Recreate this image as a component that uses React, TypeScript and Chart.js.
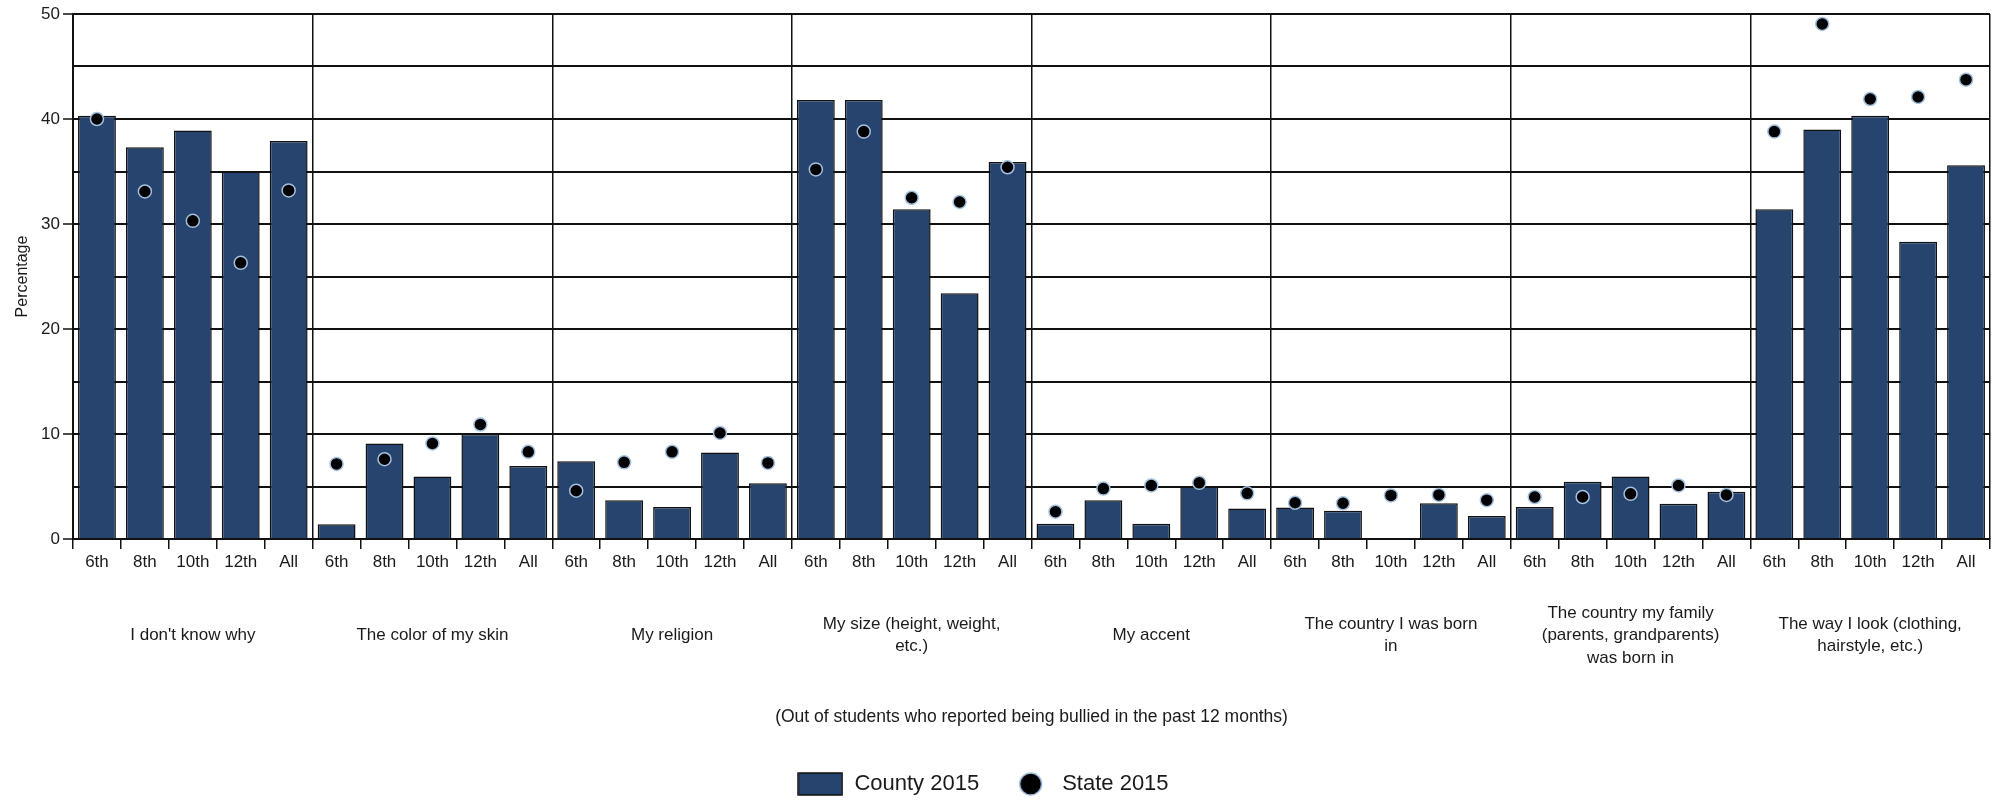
import React, { useEffect, useRef } from 'react';
import { Chart, registerables } from 'chart.js';

Chart.register(...registerables);

// ---------- data ----------
const groupLabels: (string | string[])[] = [
  "I don't know why",
  'The color of my skin',
  'My religion',
  ['My size (height, weight,', 'etc.)'],
  'My accent',
  ['The country I was born', 'in'],
  ['The country my family', '(parents, grandparents)', 'was born in'],
  ['The way I look (clothing,', 'hairstyle, etc.)'],
];

const gradeLabels = ['6th', '8th', '10th', '12th', 'All'];

// County 2015 (bars), 5 grades per group, in group order
const county2015: (number | null)[] = [
  40.3, 37.3, 38.9, 35.0, 37.9,
  1.4, 9.1, 5.95, 10.0, 6.95,
  7.4, 3.7, 3.05, 8.25, 5.3,
  41.8, 41.8, 31.4, 23.4, 35.9,
  1.45, 3.7, 1.45, 5.0, 2.9,
  3.0, 2.7, null, 3.4, 2.2,
  3.05, 5.45, 5.95, 3.35, 4.5,
  31.4, 39.0, 40.3, 28.3, 35.6,
];

// State 2015 (points)
const state2015: number[] = [
  40.0, 33.1, 30.3, 26.3, 33.2,
  7.15, 7.6, 9.1, 10.9, 8.3,
  4.6, 7.3, 8.3, 10.1, 7.25,
  35.2, 38.8, 32.5, 32.1, 35.4,
  2.6, 4.8, 5.1, 5.35, 4.35,
  3.45, 3.4, 4.15, 4.2, 3.7,
  4.0, 4.0, 4.3, 5.1, 4.2,
  38.8, 49.05, 41.9, 42.1, 43.75,
];

const yMin = 0;
const yMax = 50;
const yStep = 5;
const yLabelStep = 10;

const seriesNames = ['County 2015', 'State 2015'];
const xTitle = '(Out of students who reported being bullied in the past 12 months)';
const yTitle = 'Percentage';

// ---------- styles ----------
const FONT = '"Liberation Sans", Arial, sans-serif';
const NAVY = '#26446e';
const LINE = '#111111';
const TEXT = '#1a1a1a';
const PT_BORDER = '#a3c1e0';

const categories = groupLabels.flatMap(() => gradeLabels);

export default function App() {
  const ref = useRef<HTMLCanvasElement>(null);

  useEffect(() => {
    const canvas = ref.current;
    if (!canvas) return;

    const rectImg = document.createElement('canvas');
    rectImg.width = 46;
    rectImg.height = 24;
    const rc = rectImg.getContext('2d')!;
    rc.fillStyle = NAVY;
    rc.fillRect(1, 1, 44, 22);
    rc.strokeStyle = LINE;
    rc.lineWidth = 1.5;
    rc.strokeRect(1, 1, 44, 22);

    const dotImg = document.createElement('canvas');
    dotImg.width = 46;
    dotImg.height = 26;
    const dc = dotImg.getContext('2d')!;
    dc.beginPath();
    dc.arc(25.5, 13, 11, 0, Math.PI * 2);
    dc.fillStyle = '#000';
    dc.fill();
    dc.lineWidth = 1.5;
    dc.strokeStyle = PT_BORDER;
    dc.stroke();

    const chart = new Chart(canvas, {
      type: 'bar',
      data: {
        labels: categories,
        datasets: [
          {
            type: 'bar',
            label: seriesNames[0],
            data: county2015,
            backgroundColor: NAVY,
            borderColor: LINE,
            borderWidth: 1.5,
            barPercentage: 0.79,
            categoryPercentage: 1,
            order: 1,
            xAxisID: 'x',
            yAxisID: 'y',
          } as any,
          {
            type: 'line',
            label: seriesNames[1],
            data: state2015,
            showLine: false,
            pointRadius: 6.5,
            pointHoverRadius: 6.5,
            pointBackgroundColor: '#000',
            pointBorderColor: PT_BORDER,
            pointBorderWidth: 1.5,
            backgroundColor: '#000',
            borderColor: PT_BORDER,
            order: 0,
            xAxisID: 'x',
            yAxisID: 'y',
          } as any,
        ],
      },
      options: {
        animation: false,
        responsive: true,
        maintainAspectRatio: false,
        events: [],
        layout: { padding: { top: 14, left: 0, right: 9, bottom: -4 } },
        plugins: {
          tooltip: { enabled: false },
          legend: {
            position: 'bottom',
            labels: {
              usePointStyle: true,
              pointStyleWidth: 46,
              padding: 26,
              color: TEXT,
              font: { family: FONT, size: 22 },
              sort: (a: any, b: any) => a.datasetIndex - b.datasetIndex,
              generateLabels: (c: any) => {
                const items = (Chart.defaults.plugins.legend.labels as any).generateLabels(c);
                items.forEach((it: any) => {
                  it.pointStyle = it.datasetIndex === 0 ? rectImg : dotImg;
                });
                return items;
              },
            },
          },
        },
        scales: {
          x: {
            type: 'category',
            position: 'bottom',
            weight: 0,
            offset: true,
            grid: {
              display: true,
              drawOnChartArea: false,
              drawTicks: true,
              tickLength: 10,
              color: LINE,
              lineWidth: 1.5,
              offset: true,
            },
            border: { display: true, color: LINE, width: 2 },
            ticks: {
              color: TEXT,
              font: { family: FONT, size: 17 },
              padding: 3,
              autoSkip: false,
              maxRotation: 0,
              minRotation: 0,
            },
            afterFit: (s: any) => {
              s.height = 40;
            },
          },
          x2: {
            type: 'category',
            position: 'bottom',
            weight: 1,
            offset: true,
            labels: groupLabels as any,
            grid: {
              display: true,
              drawOnChartArea: true,
              drawTicks: false,
              color: LINE,
              lineWidth: 1.5,
              offset: true,
            },
            border: { display: false },
            ticks: {
              color: TEXT,
              font: { family: FONT, size: 17, lineHeight: 1.32 },
              padding: 34,
              autoSkip: false,
              maxRotation: 0,
              minRotation: 0,
              crossAlign: 'center',
            },
            title: {
              display: true,
              text: xTitle,
              color: TEXT,
              font: { family: FONT, size: 17.5 },
              padding: { top: 0, bottom: 19 },
            },
            afterFit: (s: any) => {
              s.height = 168;
            },
          } as any,
          y: {
            type: 'linear',
            position: 'left',
            min: yMin,
            max: yMax,
            ticks: {
              stepSize: yStep,
              color: TEXT,
              font: { family: FONT, size: 17 },
              padding: 3,
              callback: (v: any) => (Number(v) % yLabelStep === 0 ? String(v) : ''),
            },
            grid: {
              color: LINE,
              lineWidth: 2,
              drawTicks: true,
              tickLength: 10,
              tickWidth: 1.5,
              tickColor: (ctx: any) =>
                ctx.tick && Number(ctx.tick.value) % yLabelStep === 0 ? LINE : 'rgba(0,0,0,0)',
            },
            border: { display: true, color: LINE, width: 2 },
            title: {
              display: true,
              text: yTitle,
              color: TEXT,
              font: { family: FONT, size: 16 },
              padding: { top: 37, bottom: 0 },
            },
            afterFit: (s: any) => {
              s.width = 97;
            },
          },
        },
      } as any,
    });

    return () => chart.destroy();
  }, []);

  return (
    <div
      style={{
        position: 'absolute',
        left: 0,
        top: 0,
        width: 1999,
        height: 801,
        overflow: 'hidden',
        background: '#fff',
      }}
    >
      <div style={{ position: 'absolute', left: -24, top: 0, width: 2023, height: 801 }}>
        <canvas ref={ref} />
      </div>
    </div>
  );
}
